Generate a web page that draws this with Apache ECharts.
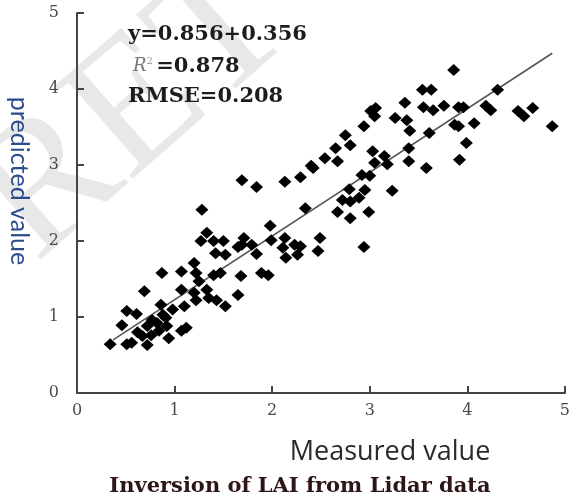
<!DOCTYPE html>
<html>
<head>
<meta charset="utf-8">
<script src="https://cdn.jsdelivr.net/npm/echarts@6/dist/echarts.min.js"></script>
<style>
    html, body { margin: 0; padding: 0; background: #fff; }
    #chart { width: 573px; height: 500px; }
</style>
</head>
<body>
<div id="chart"></div>
<script>
    // measured LAI (x) and predicted LAI (y)
    var measured = [
        0.34, 0.51, 0.56, 0.46, 0.51, 0.61, 0.69, 0.67, 0.72, 0.72,
        0.77, 0.82, 0.86, 0.91, 0.92, 0.94, 0.76, 0.88, 0.84, 1.12,
        1.07, 0.87, 1.07, 1.07, 1.10, 1.20, 1.22, 1.20, 1.22, 1.25,
        1.33, 1.35, 1.43, 1.52, 1.40, 1.47, 1.27, 1.40, 1.50, 1.42,
        1.52, 1.69, 1.68, 1.65, 1.69, 1.84, 2.13, 2.29, 1.28, 1.33,
        1.71, 1.65, 1.79, 1.84, 1.98, 1.99, 2.13, 2.11, 2.23, 2.29,
        2.14, 2.26, 2.34, 1.89, 1.96, 2.42, 2.54, 2.67, 2.65, 2.80,
        3.03, 3.15, 3.05, 2.92, 3.00, 3.18, 3.40, 3.58, 3.40, 3.23,
        2.95, 2.79, 2.72, 2.80, 2.89, 2.67, 2.80, 2.99, 2.49, 2.94,
        2.47, 3.54, 3.63, 3.36, 3.55, 3.65, 3.76, 3.86, 3.06, 3.01,
        3.05, 3.26, 3.38, 3.41, 2.94, 3.61, 3.87, 2.75, 2.40, 3.91,
        3.96, 4.31, 4.19, 4.24, 4.52, 4.58, 4.67, 4.87, 3.91, 4.07,
        3.99, 3.92, 0.98, 0.62
    ];
    var predicted = [
        0.64, 0.64, 0.66, 0.89, 1.08, 1.04, 1.34, 0.75, 0.63, 0.88,
        0.96, 0.92, 1.16, 0.99, 0.88, 0.72, 0.76, 1.03, 0.82, 0.86,
        0.82, 1.58, 1.60, 1.36, 1.14, 1.71, 1.58, 1.32, 1.22, 1.47,
        1.36, 1.25, 1.22, 1.14, 1.55, 1.58, 2.00, 2.00, 2.00, 1.84,
        1.82, 1.95, 1.54, 1.29, 2.80, 2.71, 2.78, 2.84, 2.41, 2.11,
        2.04, 1.92, 1.95, 1.83, 2.20, 2.01, 2.04, 1.91, 1.95, 1.93,
        1.78, 1.82, 2.43, 1.58, 1.55, 2.96, 3.09, 3.05, 3.22, 3.26,
        3.18, 3.12, 3.03, 2.87, 2.86, 3.01, 3.05, 2.96, 3.22, 2.66,
        2.67, 2.68, 2.54, 2.52, 2.57, 2.38, 2.30, 2.38, 2.04, 1.92,
        1.87, 3.99, 3.99, 3.82, 3.76, 3.72, 3.78, 4.25, 3.75, 3.71,
        3.64, 3.62, 3.59, 3.45, 3.51, 3.42, 3.53, 3.39, 2.99, 3.76,
        3.76, 3.99, 3.78, 3.72, 3.71, 3.64, 3.75, 3.51, 3.51, 3.55,
        3.29, 3.07, 1.10, 0.80
    ];
    // ends of the fitted line as drawn
    var fitX = [0.37, 4.87];
    var fitY = [0.70, 4.47];
    var axisMin = 0, axisMax = 5, axisStep = 1;

    var points = [];
    for (var i = 0; i < measured.length; i++) {
        points.push([measured[i], predicted[i]]);
    }
    var fitLine = [];
    for (var j = 0; j < fitX.length; j++) {
        fitLine.push([fitX[j], fitY[j]]);
    }

    var chart = echarts.init(document.getElementById('chart'));

    var axisCommon = {
        type: 'value',
        min: axisMin,
        max: axisMax,
        interval: axisStep,
        splitLine: { show: false },
        axisLine: { onZero: false, lineStyle: { color: '#444', width: 2 } },
        axisTick: { inside: true, length: 7, lineStyle: { color: '#444', width: 2 } },
        axisLabel: {
            fontFamily: 'DejaVu Serif',
            fontSize: 16,
            color: '#4a4a4a'
        }
    };

    var option = {
        animation: false,
        backgroundColor: '#fff',
        grid: { left: 77, right: 4, top: 13, bottom: 107 },
        xAxis: echarts.util.merge({ axisLabel: { margin: 10 } }, axisCommon, true),
        yAxis: echarts.util.merge({ axisLabel: { margin: 18 } }, axisCommon, true),
        graphic: [
            {
                // faint watermark behind the plot
                type: 'text', x: 135, y: 112, rotation: 0.72, z: -10, silent: true,
                style: {
                    text: 'RET', font: '185px "Liberation Serif"', fill: '#e8e8e8',
                    align: 'center', verticalAlign: 'middle'
                }
            },
            {
                type: 'text', left: 128, top: 24,
                style: { text: 'y=0.856+0.356', font: 'bold 21px "DejaVu Serif"', fill: '#1c1c1c' }
            },
            {
                type: 'text', left: 133, top: 56,
                style: {
                    text: '{i|R}{s|2} {b|=0.878}',
                    rich: {
                        i: { font: 'italic 18px "DejaVu Serif"', fill: '#777' },
                        s: { font: '10px "DejaVu Serif"', fill: '#999', verticalAlign: 'top' },
                        b: { font: 'bold 21px "DejaVu Serif"', fill: '#1c1c1c' }
                    }
                }
            },
            {
                type: 'text', left: 128, top: 86,
                style: { text: 'RMSE=0.208', font: 'bold 21px "DejaVu Serif"', fill: '#1c1c1c' }
            },
            {
                type: 'text', x: 19, y: 181, rotation: -Math.PI / 2,
                style: {
                    text: 'predicted value', font: '25px Lato', fill: '#2b4b8f',
                    align: 'center', verticalAlign: 'middle'
                }
            },
            {
                type: 'text', x: 390, y: 452,
                style: {
                    text: 'Measured value', font: '27px "Open Sans"', fill: '#2a2a2a',
                    align: 'center', verticalAlign: 'middle'
                }
            },
            {
                type: 'text', x: 300, y: 487,
                style: {
                    text: 'Inversion of LAI from Lidar data', font: 'bold 21px "DejaVu Serif"',
                    fill: '#2e1616', align: 'center', verticalAlign: 'middle'
                }
            }
        ],
        series: [
            {
                type: 'scatter',
                data: points,
                symbol: 'diamond',
                symbolSize: [13, 12],
                itemStyle: { color: '#000', opacity: 1 },
                z: 3
            },
            {
                type: 'line',
                data: fitLine,
                symbol: 'none',
                lineStyle: { color: '#555', width: 1.6 },
                z: 2
            }
        ]
    };
    chart.setOption(option);
</script>
</body>
</html>
